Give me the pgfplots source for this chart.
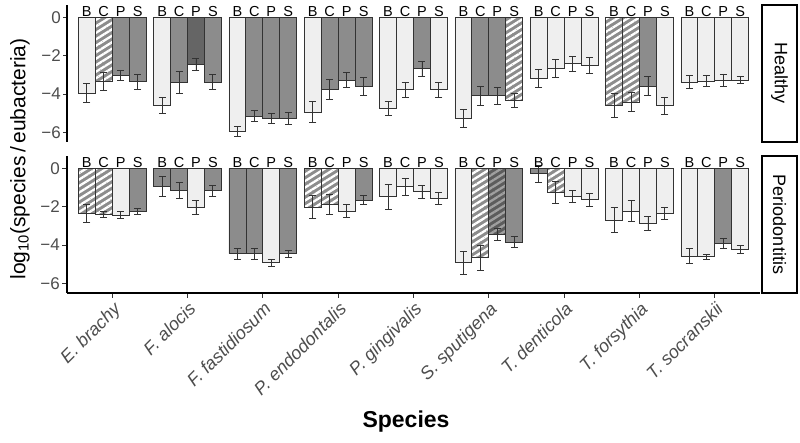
\documentclass[border=0pt]{standalone}
\usepackage{fontspec}
\setmainfont{Liberation Sans}
\usepackage{pgfplots}
\pgfplotsset{compat=1.18}
\usetikzlibrary{patterns.meta}
\definecolor{lightbar}{HTML}{EFEFEF}
\definecolor{medbar}{HTML}{8C8C8C}
\definecolor{darkbar}{HTML}{656565}
\definecolor{dhbase}{HTML}{5C5C5C}
\definecolor{dhstripe}{HTML}{A0A0A0}
\definecolor{outline}{HTML}{333333}
\definecolor{tickgray}{HTML}{4D4D4D}

\pgfplotsset{
  panel/.style={
    scale only axis, width=693pt, height=137pt,
    xmin=0.4, xmax=9.6, ymin=-6.5, ymax=0.65,
    ytick={-6,-4,-2,0}, yticklabels={−6,−4,−2,0},
    tick align=outside, major tick length=4pt,
    tick style={line width=0.9pt, color=outline},
    axis line style={line width=1.1pt, black, -},
    yticklabel style={font=\fontsize{17}{17}\selectfont, color=tickgray, inner sep=2pt},
    clip=false,
  },
  barbase/.style={ybar, bar width=0.225, bar shift=0pt},
  mybar/.style={barbase, draw=outline, line width=0.8pt,
    error bars/y dir=both, error bars/y explicit,
    error bars/error bar style={line width=0.9pt, color=outline, solid},
    error bars/error mark options={rotate=90, line width=0.9pt, mark size=3.5pt, color=outline, solid},
  },
  light/.style={mybar, fill=lightbar},
  med/.style={mybar, fill=medbar},
  dark/.style={mybar, fill=darkbar},
  hbase/.style={barbase, draw=none, fill=medbar},
  hbasedark/.style={barbase, draw=none, fill=dhbase},
  hatch/.style={mybar, pattern={Lines[angle=32,distance=5.5pt,line width=2.3pt]}, pattern color=white},
  dhatch/.style={mybar, pattern={Lines[angle=32,distance=5.5pt,line width=2.3pt]}, pattern color=dhstripe},
}

\newcommand\letters{%
\addplot[only marks, mark=none, nodes near coords, point meta=explicit symbolic,
  nodes near coords style={anchor=center, font=\fontsize{14.5}{14.5}\selectfont, color=black, inner sep=0pt}]
coordinates {
(0.6625,0.29)[B] (0.8875,0.29)[C] (1.1125,0.29)[P] (1.3375,0.29)[S]
(1.6625,0.29)[B] (1.8875,0.29)[C] (2.1125,0.29)[P] (2.3375,0.29)[S]
(2.6625,0.29)[B] (2.8875,0.29)[C] (3.1125,0.29)[P] (3.3375,0.29)[S]
(3.6625,0.29)[B] (3.8875,0.29)[C] (4.1125,0.29)[P] (4.3375,0.29)[S]
(4.6625,0.29)[B] (4.8875,0.29)[C] (5.1125,0.29)[P] (5.3375,0.29)[S]
(5.6625,0.29)[B] (5.8875,0.29)[C] (6.1125,0.29)[P] (6.3375,0.29)[S]
(6.6625,0.29)[B] (6.8875,0.29)[C] (7.1125,0.29)[P] (7.3375,0.29)[S]
(7.6625,0.29)[B] (7.8875,0.29)[C] (8.1125,0.29)[P] (8.3375,0.29)[S]
(8.6625,0.29)[B] (8.8875,0.29)[C] (9.1125,0.29)[P] (9.3375,0.29)[S]
};}

\begin{document}
\begin{tikzpicture}
\useasboundingbox (0,0) rectangle (800pt,443pt);

% ---------------- Healthy ----------------
\begin{axis}[panel, at={(67pt,301pt)}, anchor=south west,
  axis y line*=left, axis x line=none, xtick=\empty]
\addplot[light] coordinates {
(0.6625,-3.95) +- (0,0.50) (1.6625,-4.60) +- (0,0.42) (2.6625,-5.95) +- (0,0.25)
(3.6625,-4.94) +- (0,0.53) (4.6625,-4.77) +- (0,0.37) (4.8875,-3.78) +- (0,0.41)
(5.3375,-3.78) +- (0,0.37) (5.6625,-5.27) +- (0,0.48) (6.6625,-3.17) +- (0,0.46)
(6.8875,-2.68) +- (0,0.47) (7.1125,-2.42) +- (0,0.39) (7.3375,-2.51) +- (0,0.43)
(8.3375,-4.60) +- (0,0.45) (8.6625,-3.37) +- (0,0.32) (8.8875,-3.32) +- (0,0.27)
(9.1125,-3.27) +- (0,0.32) (9.3375,-3.27) +- (0,0.20)};
\addplot[med] coordinates {
(1.1125,-3.02) +- (0,0.25) (1.3375,-3.36) +- (0,0.39) (1.8875,-3.39) +- (0,0.56)
(2.3375,-3.39) +- (0,0.39) (2.8875,-5.15) +- (0,0.29) (3.1125,-5.28) +- (0,0.27)
(3.3375,-5.28) +- (0,0.31) (3.8875,-3.75) +- (0,0.54) (4.1125,-3.27) +- (0,0.39)
(4.3375,-3.61) +- (0,0.47) (5.1125,-2.68) +- (0,0.39) (5.8875,-4.09) +- (0,0.48)
(6.1125,-4.09) +- (0,0.46) (8.1125,-3.58) +- (0,0.49)};
\addplot[dark] coordinates {(2.1125,-2.47) +- (0,0.32)};
\addplot[hbase] coordinates {(0.8875,-3.32) (6.3375,-4.35) (7.6625,-4.60) (7.8875,-4.43)};
\addplot[hatch] coordinates {
(0.8875,-3.32) +- (0,0.47) (6.3375,-4.35) +- (0,0.37)
(7.6625,-4.60) +- (0,0.61) (7.8875,-4.43) +- (0,0.49)};
\letters
\draw[line width=1.6pt, fill=white] ([xshift=2pt]rel axis cs:1,0) rectangle ([xshift=37pt]rel axis cs:1,1);
\node[rotate=-90, font=\fontsize{18}{18}\selectfont] at ([xshift=19.5pt]rel axis cs:1,0.5) {Healthy};
\end{axis}

% ---------------- Periodontitis ----------------
\begin{axis}[panel, at={(67pt,150pt)}, anchor=south west,
  axis y line*=left, axis x line*=bottom, major tick length=5pt,
  xtick={1,2,3,4,5,6,7,8,9},
  xticklabels={E. brachy, F. alocis, F. fastidiosum, P. endodontalis, P. gingivalis, S. sputigena, T. denticola, T. forsythia, T. socranskii},
  xticklabel style={rotate=45, anchor=north east, font=\itshape\fontsize{18}{18}\selectfont, color=tickgray, inner sep=2pt}]
\addplot[light] coordinates {
(1.1125,-2.44) +- (0,0.18) (2.1125,-2.04) +- (0,0.37) (3.1125,-4.92) +- (0,0.19)
(4.1125,-2.22) +- (0,0.33) (4.6625,-1.47) +- (0,0.65) (4.8875,-0.96) +- (0,0.45)
(5.1125,-1.22) +- (0,0.33) (5.3375,-1.57) +- (0,0.33) (5.6625,-4.92) +- (0,0.61)
(7.1125,-1.47) +- (0,0.33) (7.3375,-1.64) +- (0,0.33) (7.6625,-2.69) +- (0,0.63)
(7.8875,-2.22) +- (0,0.55) (8.1125,-2.88) +- (0,0.36) (8.3375,-2.34) +- (0,0.33)
(8.6625,-4.57) +- (0,0.39) (8.8875,-4.60) +- (0,0.13) (9.3375,-4.22) +- (0,0.22)};
\addplot[med] coordinates {
(1.3375,-2.25) +- (0,0.17) (1.6625,-0.94) +- (0,0.50) (1.8875,-1.17) +- (0,0.42)
(2.3375,-1.17) +- (0,0.28) (2.6625,-4.45) +- (0,0.29) (2.8875,-4.45) +- (0,0.28)
(3.3375,-4.45) +- (0,0.19) (4.3375,-1.66) +- (0,0.24) (6.3375,-3.84) +- (0,0.27)
(6.6625,-0.28) +- (0,0.45) (9.1125,-3.91) +- (0,0.24)};
\addplot[hbase] coordinates {(0.6625,-2.34) (0.8875,-2.39) (3.6625,-2.01) (3.8875,-1.87) (5.8875,-4.66) (6.8875,-1.26)};
\addplot[hatch] coordinates {
(0.6625,-2.34) +- (0,0.48) (0.8875,-2.39) +- (0,0.16) (3.6625,-2.01) +- (0,0.59)
(3.8875,-1.87) +- (0,0.52) (5.8875,-4.66) +- (0,0.65) (6.8875,-1.26) +- (0,0.58)};
\addplot[hbasedark] coordinates {(6.1125,-3.44)};
\addplot[dhatch] coordinates {(6.1125,-3.44) +- (0,0.33)};
\letters
\draw[line width=1.6pt, fill=white] ([xshift=2pt]rel axis cs:1,0) rectangle ([xshift=37pt]rel axis cs:1,1);
\node[rotate=-90, font=\fontsize{18}{18}\selectfont] at ([xshift=19.5pt]rel axis cs:1,0.5) {Periodontitis};
\end{axis}

\node[rotate=90, font=\fontsize{21}{21}\selectfont] at (20pt,284pt) {log\textsubscript{10}(species\,/\,eubacteria)};
\node[font=\bfseries\fontsize{23}{23}\selectfont] at (406pt,21pt) {Species};
\end{tikzpicture}
\end{document}
